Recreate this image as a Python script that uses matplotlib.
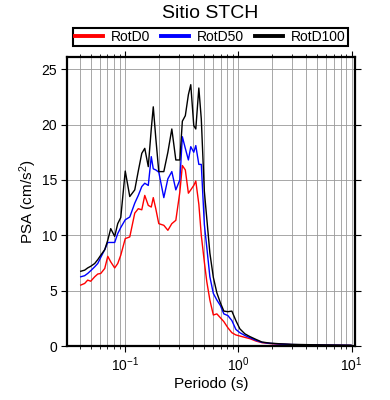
import matplotlib
matplotlib.use('Agg')
import matplotlib.pyplot as plt
import matplotlib.ticker as mticker
from matplotlib.lines import Line2D

plt.rcParams['font.family'] = ['Liberation Sans', 'DejaVu Sans']
plt.rcParams['mathtext.fontset'] = 'custom'
plt.rcParams['mathtext.rm'] = 'Liberation Sans'
plt.rcParams['mathtext.it'] = 'Liberation Sans:italic'
plt.rcParams['mathtext.bf'] = 'Liberation Sans:bold'

# periodos (s) y espectros de pseudo-aceleracion (cm/s2)
periods = [0.0409, 0.0443, 0.0471, 0.0501, 0.0543, 0.0578, 0.0614, 0.0666, 0.0708, 0.0752,
           0.0815, 0.0867, 0.0922, 0.101, 0.1107, 0.1225, 0.1316, 0.1413, 0.1501, 0.1612,
           0.1713, 0.1784, 0.1877, 0.1995, 0.221, 0.240, 0.260, 0.282, 0.306, 0.322,
           0.342, 0.364, 0.382, 0.406, 0.423, 0.450, 0.473, 0.503, 0.529, 0.563,
           0.604, 0.649, 0.697, 0.748, 0.811, 0.880, 0.954, 1.035, 1.146, 1.269,
           1.433, 1.619, 1.905, 2.334, 2.98, 4.12, 5.82, 7.9, 9.88]

rotd0 = [5.5, 5.65, 5.95, 5.85, 6.25, 6.5, 6.55, 7.0, 8.1, 7.6,
         7.05, 7.45, 8.2, 9.7, 9.85, 12.0, 12.4, 12.3, 13.6, 12.7,
         12.55, 13.4, 12.4, 11.05, 10.9, 10.45, 11.05, 11.35, 13.9, 16.3,
         15.9, 13.8, 14.1, 14.5, 14.9, 12.8, 10.0, 7.6, 5.8, 4.15,
         2.8, 2.9, 2.55, 2.2, 1.65, 1.2, 1.0, 0.9, 0.78, 0.66,
         0.45, 0.3, 0.22, 0.16, 0.12, 0.09, 0.07, 0.06, 0.05]

rotd50 = [6.25, 6.35, 6.55, 6.8, 7.15, 7.45, 8.0, 8.7, 9.35, 9.35,
          9.35, 10.15, 10.7, 11.4, 11.65, 12.9, 13.6, 14.4, 14.7, 14.5,
          17.1, 16.0, 15.9, 15.7, 13.4, 15.1, 15.75, 14.1, 15.0, 18.9,
          17.85, 16.8, 18.0, 17.5, 18.1, 16.4, 16.4, 11.0, 8.9, 6.25,
          4.75, 4.15, 3.65, 2.9, 2.75, 2.3, 1.5, 1.2, 0.95, 0.75,
          0.52, 0.33, 0.24, 0.18, 0.13, 0.1, 0.08, 0.07, 0.06]

rotd100 = [6.75, 6.85, 7.05, 7.2, 7.45, 7.8, 8.2, 8.7, 9.55, 10.6,
           9.9, 11.05, 11.6, 15.8, 13.5, 14.1, 15.8, 17.4, 17.85, 16.2,
           19.6, 21.6, 18.8, 15.75, 15.75, 17.5, 19.6, 16.8, 16.8, 20.3,
           20.8, 22.7, 23.6, 19.9, 19.6, 23.3, 20.5, 14.0, 11.5, 8.4,
           6.2, 4.8, 3.9, 3.15, 3.1, 3.15, 2.3, 1.55, 1.1, 0.85,
           0.6, 0.36, 0.26, 0.2, 0.15, 0.12, 0.1, 0.08, 0.07]

fig = plt.figure(figsize=(3.9, 4.0), dpi=100)
ax = fig.add_axes([0.172, 0.135, 0.738, 0.7225])

ax.plot(periods, rotd0, color='red', lw=1.0, label='RotD0')
ax.plot(periods, rotd50, color='blue', lw=1.0, label='RotD50')
ax.plot(periods, rotd100, color='black', lw=1.0, label='RotD100')

ax.set_xscale('log')
ax.set_xlim(0.031, 10.7)
ax.set_ylim(0, 26.1)
ax.xaxis.set_major_locator(mticker.LogLocator(base=10, numticks=10))
ax.xaxis.set_minor_locator(mticker.LogLocator(base=10, subs=range(2, 10), numticks=30))
ax.xaxis.set_minor_formatter(mticker.NullFormatter())
ax.yaxis.set_major_locator(mticker.MultipleLocator(5))

ax.grid(which='both', axis='x', color='#999999', lw=0.6)
ax.grid(which='major', axis='y', color='#999999', lw=0.6)
ax.set_axisbelow(True)

ax.tick_params(which='both', direction='out', top=True, right=True, labelsize=10, pad=3)
ax.tick_params(which='major', length=4, width=0.8)
ax.tick_params(which='minor', length=2.5, width=0.6)
for s in ax.spines.values():
    s.set_linewidth(1.6)

ax.set_xlabel('Periodo (s)', fontsize=11, labelpad=2)
ax.set_ylabel('PSA (cm/s$^2$)', fontsize=11, labelpad=2)

fig.text(0.54, 1 - 14 / 400, 'Sitio STCH', ha='center', va='center', fontsize=14)

handles = [Line2D([], [], color=c, lw=2.8) for c in ['red', 'blue', 'black']]
leg = fig.legend(handles, ['RotD0', 'RotD50', 'RotD100'], loc='lower left',
                 bbox_to_anchor=(73 / 390, 1 - 46 / 400, 275 / 390, 18 / 400),
                 mode='expand', ncol=3, fancybox=False, edgecolor='black',
                 borderaxespad=0, fontsize=10, handlelength=2.0, handletextpad=0.6,
                 borderpad=0.15, framealpha=1)
leg.get_frame().set_linewidth(1.5)

plt.savefig('out.png', dpi=100)
